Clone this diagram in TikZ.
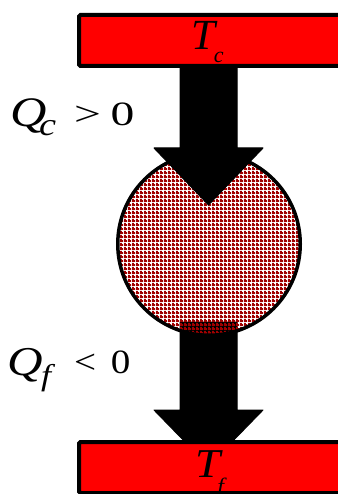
\documentclass[tikz,border=0pt]{standalone}
\usepackage{fontspec}
\setmainfont{Liberation Serif}
\usetikzlibrary{patterns}
\definecolor{hatchred}{RGB}{160,0,0}
\definecolor{resred}{RGB}{255,0,0}
\pgfdeclarepatternformonly{gridhatch}{\pgfpointorigin}{\pgfpoint{4pt}{4pt}}{\pgfpoint{4pt}{4pt}}{%
  \pgfpathrectangle{\pgfpointorigin}{\pgfpoint{4pt}{2.3pt}}%
  \pgfpathrectangle{\pgfpointorigin}{\pgfpoint{2.3pt}{4pt}}%
  \pgfusepath{fill}}
\tikzset{
  reservoir/.style={draw=black, line width=4pt, fill=resred, rounded corners=1.5pt,
    minimum width=290pt, minimum height=51pt, inner sep=0pt, outer sep=0pt},
  engine/.style={circle, draw=black, line width=3.5pt, pattern=gridhatch, pattern color=hatchred,
    minimum size=182.5pt, inner sep=0pt, outer sep=0pt},
  heatflow/.style={fill=black, draw=black, line width=1pt, line join=round},
  lbl/.style={anchor=base west, inner sep=0pt, outer sep=0pt}
}
\begin{document}
\begin{tikzpicture}[x=1pt, y=-1pt]
\useasboundingbox (0,0) rectangle (337,494);
% heat flow to cold reservoir (behind the engine)
\draw[heatflow] (180,322) -- (180,410) -- (154,410) -- (208.5,466) -- (263,410) -- (237,410) -- (237,322) -- cycle;
% engine
\node[engine] (engine) at (209,244) {};
% heat flow from hot reservoir
\draw[heatflow] (180,66) -- (180,148) -- (154,148) -- (208.5,205) -- (263,148) -- (237,148) -- (237,66) -- cycle;
% reservoirs
\node[reservoir] (hot) at (224,40.5) {};
\node[reservoir] (cold) at (224,467.5) {};
% reservoir labels
\node[lbl] (tc) at (191.5,50) {\fontsize{43}{43}\selectfont\itshape T\kern-1.5pt\raisebox{-13pt}{\fontsize{22}{22}\selectfont\itshape c}};
\node[lbl] (tf) at (195.5,477) {\fontsize{41}{41}\selectfont\scalebox{1.1}[1]{\itshape T\kern-3pt\raisebox{-16pt}{\fontsize{22}{22}\selectfont\itshape f}}};
% heat labels
\node[lbl] (qc) at (10,127) {\fontsize{42}{42}\selectfont\scalebox{1.2}[1]{\itshape Q\kern-6pt\raisebox{-9pt}{\fontsize{32}{32}\selectfont\itshape c}}};
\node[lbl] (qcrel) at (74,126) {\fontsize{34}{34}\selectfont\scalebox{1.4}[1]{>\kern7pt 0}};
\node[lbl] (qf) at (8,375) {\fontsize{41}{41}\selectfont\scalebox{1.2}[1]{\itshape Q\kern-2pt\raisebox{-10pt}{\fontsize{30}{30}\selectfont\itshape f}}};
\node[lbl] (qfrel) at (74,373) {\fontsize{34}{34}\selectfont\scalebox{1.15}[1]{<\kern13pt 0}};
\end{tikzpicture}
\end{document}
